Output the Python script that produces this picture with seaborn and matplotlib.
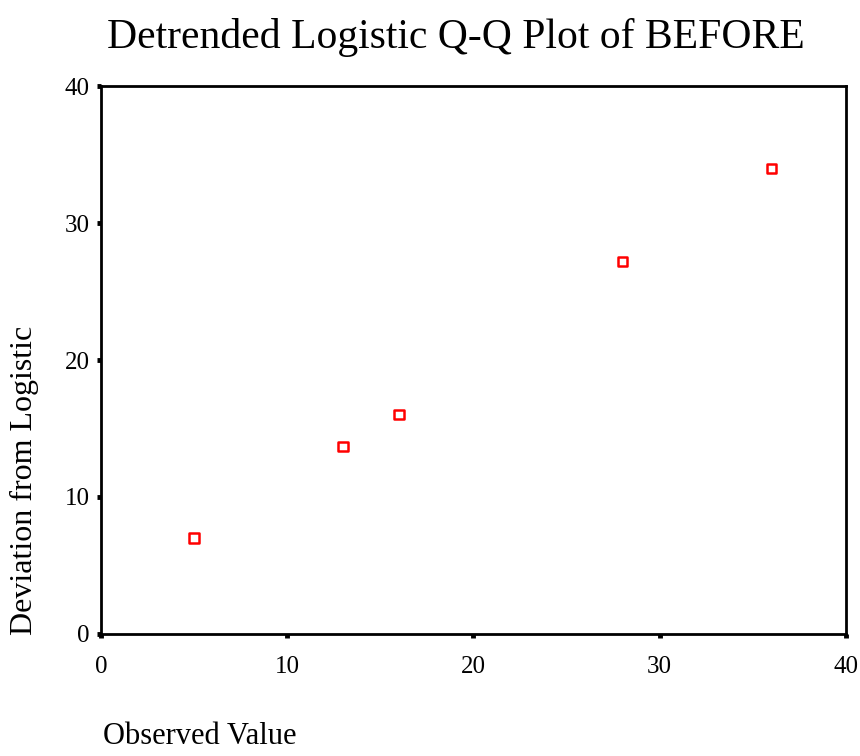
import pandas as pd
import seaborn as sns
import matplotlib.pyplot as plt

observed = [5, 13, 16, 28, 36]
deviation = [7.0, 13.7, 16.0, 27.2, 34.0]
ticks = [0, 10, 20, 30, 40]

df = pd.DataFrame({'observed': observed, 'deviation': deviation})

sns.set_style('white')
plt.rcParams['font.family'] = ['Liberation Serif', 'DejaVu Serif']
plt.rcParams['text.color'] = 'black'
plt.rcParams['xtick.color'] = 'black'
plt.rcParams['ytick.color'] = 'black'

fig = plt.figure(figsize=(8.6, 7.56), dpi=100)
ax = fig.add_axes([0.1174, 0.1614, 0.8663, 0.7248])

sns.scatterplot(data=df, x='observed', y='deviation', ax=ax, marker='s',
                s=45, facecolor='none', edgecolor='red', linewidth=1.8)

ax.set_xlim(0, 40)
ax.set_ylim(0, 40)
ax.set_xticks(ticks)
ax.set_yticks(ticks)
ax.set_xticklabels([str(t) for t in ticks], fontsize=18)
ax.set_yticklabels([str(t) for t in ticks], fontsize=18)
ax.tick_params(bottom=True, left=True, direction='out', length=3, width=3.5,
               color='black', labelcolor='black')
ax.tick_params(axis='x', pad=13)
ax.tick_params(axis='y', pad=5)
for s in ax.spines.values():
    s.set_color('black')
    s.set_linewidth(2)

ax.set_xlabel('')
ax.set_ylabel('')
fig.text(0.12, 0.006, 'Observed Value', fontsize=22, ha='left', va='bottom')
fig.text(0.012, 0.16, 'Deviation from Logistic', fontsize=23, rotation=90,
         ha='left', va='bottom')
fig.text(0.53, 0.951, 'Detrended Logistic Q-Q Plot of BEFORE', fontsize=30,
         ha='center', va='center')

plt.savefig('out.png')
